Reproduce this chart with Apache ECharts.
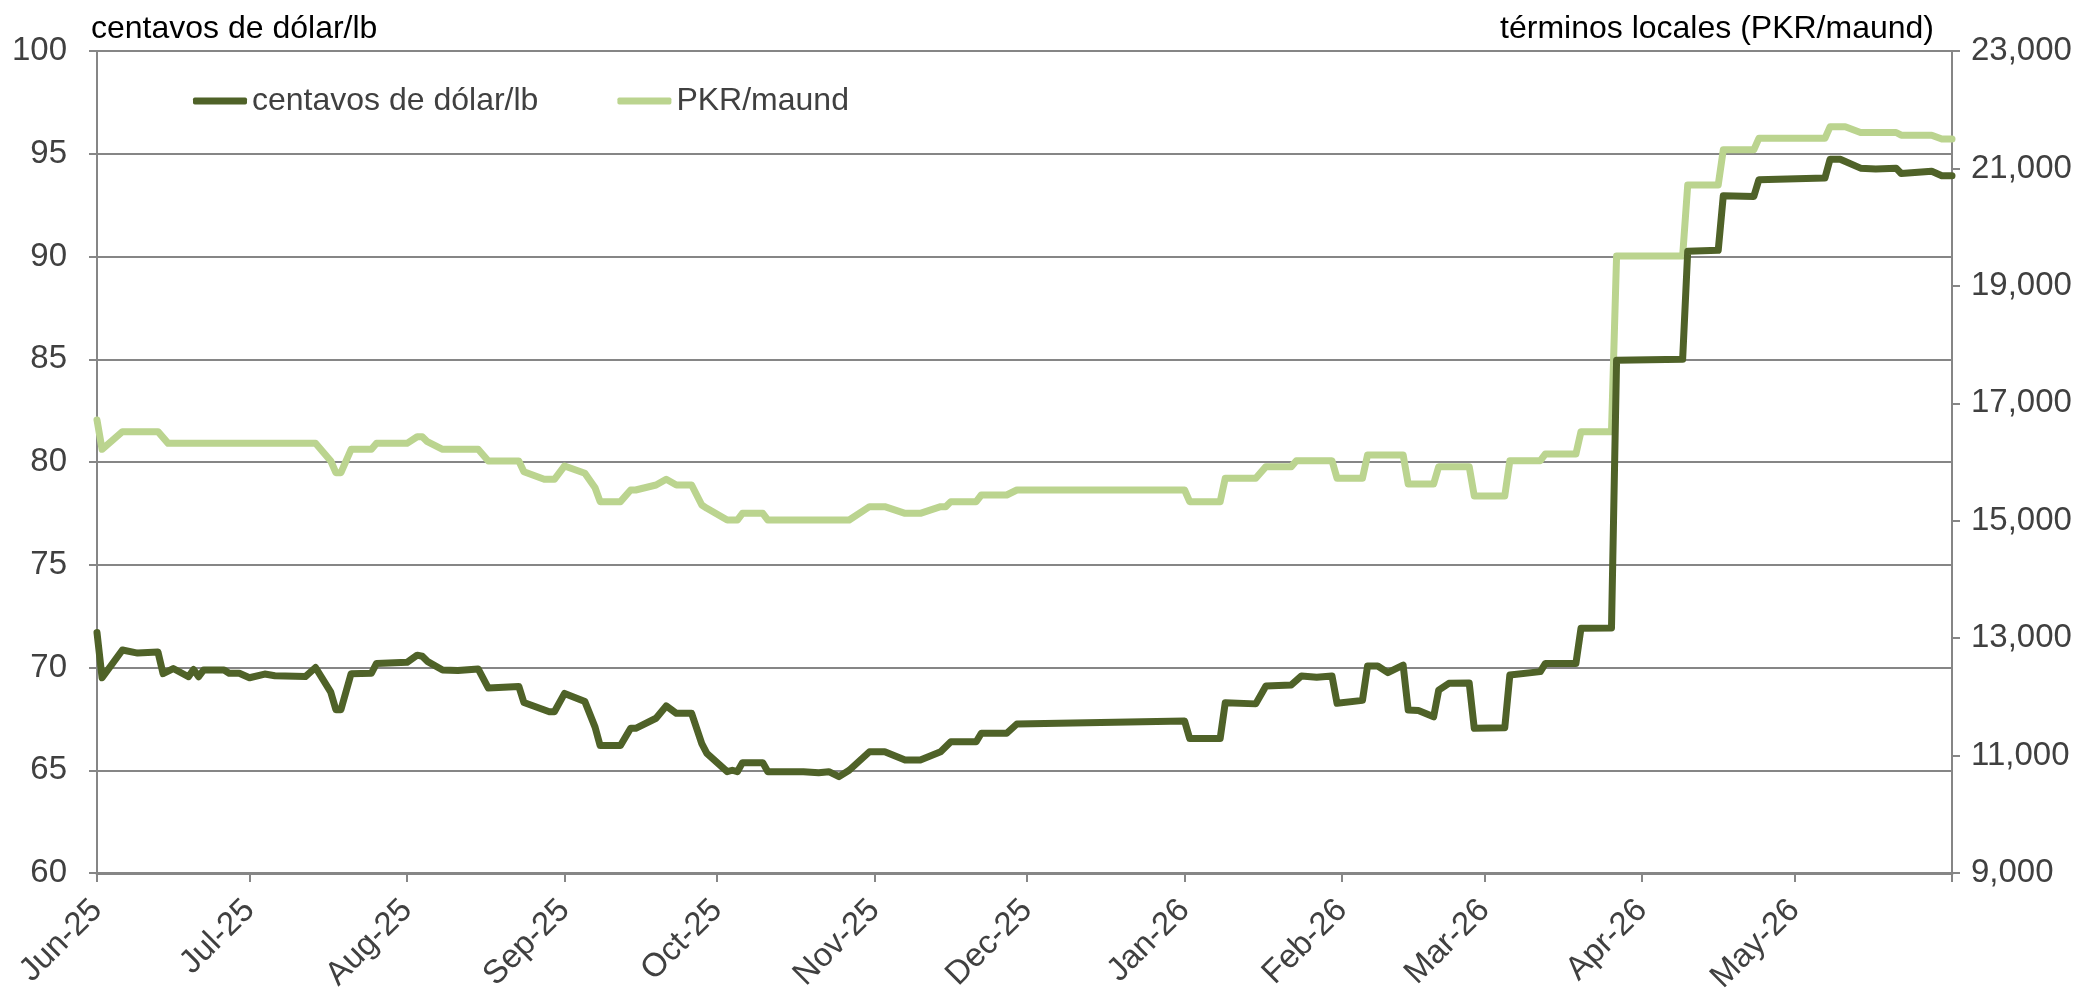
<!DOCTYPE html>
<html>
<head>
  <meta charset="utf-8">
  <title>centavos de dólar/lb vs PKR/maund</title>
  <style type="text/css">
    html, body, #main {
      width: 2095px;
      height: 990px;
      margin: 0;
      padding: 0;
      background: #ffffff;
    }
  </style>
  <script src="https://cdn.jsdelivr.net/npm/echarts@6/dist/echarts.min.js"></script>
</head>
<body>
  <div id="main"></div>
  <script>
    // month ticks on the date axis (last one carries no label)
    var tickDates = ['2025-06-01', '2025-07-01', '2025-08-01', '2025-09-01', '2025-10-01', '2025-11-01',
      '2025-12-01', '2026-01-01', '2026-02-01', '2026-03-01', '2026-04-01', '2026-05-01', '2026-06-01'];
    var tickLabels = ['Jun-25', 'Jul-25', 'Aug-25', 'Sep-25', 'Oct-25', 'Nov-25',
      'Dec-25', 'Jan-26', 'Feb-26', 'Mar-26', 'Apr-26', 'May-26', ''];

    var rightTicks = [9000, 11000, 13000, 15000, 17000, 19000, 21000, 23000];

    // US cents per lb (left axis), turning points
    var usdDates = ['2025-06-01', '2025-06-02', '2025-06-06', '2025-06-09', '2025-06-13', '2025-06-14', '2025-06-16',
      '2025-06-19', '2025-06-20', '2025-06-21', '2025-06-22', '2025-06-26', '2025-06-27', '2025-06-29', '2025-07-01',
      '2025-07-04', '2025-07-06', '2025-07-12', '2025-07-14', '2025-07-17', '2025-07-18', '2025-07-19', '2025-07-21',
      '2025-07-25', '2025-07-26', '2025-08-01', '2025-08-03', '2025-08-04', '2025-08-05', '2025-08-08', '2025-08-11',
      '2025-08-15', '2025-08-17', '2025-08-23', '2025-08-24', '2025-08-29', '2025-08-30', '2025-09-01', '2025-09-05',
      '2025-09-07', '2025-09-08', '2025-09-12', '2025-09-14', '2025-09-15', '2025-09-19', '2025-09-21', '2025-09-23',
      '2025-09-26', '2025-09-28', '2025-09-29', '2025-10-03', '2025-10-04', '2025-10-05', '2025-10-06', '2025-10-10',
      '2025-10-11', '2025-10-18', '2025-10-21', '2025-10-23', '2025-10-25', '2025-10-27', '2025-10-31', '2025-11-03',
      '2025-11-07', '2025-11-10', '2025-11-14', '2025-11-16', '2025-11-21', '2025-11-22', '2025-11-27', '2025-11-29',
      '2026-01-01', '2026-01-02', '2026-01-08', '2026-01-09', '2026-01-15', '2026-01-17', '2026-01-22', '2026-01-24',
      '2026-01-27', '2026-01-30', '2026-01-31', '2026-02-05', '2026-02-06', '2026-02-08', '2026-02-10', '2026-02-13',
      '2026-02-14', '2026-02-16', '2026-02-19', '2026-02-20', '2026-02-22', '2026-02-26', '2026-02-27', '2026-03-05',
      '2026-03-06', '2026-03-12', '2026-03-13', '2026-03-19', '2026-03-20', '2026-03-26', '2026-03-27', '2026-04-09',
      '2026-04-10', '2026-04-16', '2026-04-17', '2026-04-23', '2026-04-24', '2026-05-07', '2026-05-08', '2026-05-10',
      '2026-05-14', '2026-05-17', '2026-05-21', '2026-05-22', '2026-05-28', '2026-05-30', '2026-06-01'];
    var usdValues = [71.7, 69.5, 70.85, 70.7, 70.75, 69.7, 69.95,
      69.55, 69.9, 69.55, 69.88, 69.88, 69.72, 69.72, 69.5,
      69.68, 69.6, 69.56, 70.0, 68.8, 67.95, 67.95, 69.7,
      69.72, 70.2, 70.25, 70.6, 70.55, 70.3, 69.88, 69.85,
      69.93, 69.0, 69.08, 68.3, 67.85, 67.85, 68.74, 68.34,
      67.1, 66.2, 66.2, 67.04, 67.04, 67.53, 68.13, 67.77,
      67.77, 66.3, 65.82, 64.93, 65.0, 64.93, 65.37, 65.37,
      64.93, 64.93, 64.88, 64.93, 64.69, 65.0, 65.9, 65.9,
      65.5, 65.5, 65.9, 66.39, 66.39, 66.8, 66.8, 67.25,
      67.4, 66.55, 66.55, 68.29, 68.23, 69.1, 69.15, 69.59,
      69.53, 69.59, 68.26, 68.4, 70.07, 70.07, 69.75, 70.12,
      67.93, 67.91, 67.6, 68.9, 69.23, 69.25, 67.04, 67.07,
      69.64, 69.8, 70.2, 70.2, 71.91, 71.92, 84.95, 85.0,
      90.26, 90.3, 92.96, 92.92, 93.74, 93.82, 94.73, 94.73,
      94.3, 94.26, 94.3, 94.04, 94.15, 93.93, 93.93];

    // PKR per maund (right axis)
    var pkrDates = ['2025-06-01', '2025-06-02', '2025-06-06', '2025-06-13', '2025-06-15', '2025-07-14', '2025-07-17',
      '2025-07-18', '2025-07-19', '2025-07-21', '2025-07-25', '2025-07-26', '2025-08-01', '2025-08-03', '2025-08-04',
      '2025-08-05', '2025-08-08', '2025-08-15', '2025-08-17', '2025-08-23', '2025-08-24', '2025-08-28', '2025-08-30',
      '2025-09-01', '2025-09-05', '2025-09-07', '2025-09-08', '2025-09-12', '2025-09-14', '2025-09-15', '2025-09-19',
      '2025-09-21', '2025-09-23', '2025-09-26', '2025-09-28', '2025-09-29', '2025-10-03', '2025-10-05', '2025-10-06',
      '2025-10-10', '2025-10-11', '2025-10-27', '2025-10-31', '2025-11-03', '2025-11-07', '2025-11-10', '2025-11-14',
      '2025-11-15', '2025-11-16', '2025-11-21', '2025-11-22', '2025-11-27', '2025-11-29', '2026-01-01', '2026-01-02',
      '2026-01-08', '2026-01-09', '2026-01-15', '2026-01-17', '2026-01-22', '2026-01-23', '2026-01-30', '2026-01-31',
      '2026-02-05', '2026-02-06', '2026-02-13', '2026-02-14', '2026-02-19', '2026-02-20', '2026-02-26', '2026-02-27',
      '2026-03-05', '2026-03-06', '2026-03-12', '2026-03-13', '2026-03-19', '2026-03-20', '2026-03-26', '2026-03-27',
      '2026-04-09', '2026-04-10', '2026-04-16', '2026-04-17', '2026-04-23', '2026-04-24', '2026-05-07', '2026-05-08',
      '2026-05-11', '2026-05-14', '2026-05-21', '2026-05-22', '2026-05-28', '2026-05-30', '2026-06-01'];
    var pkrValues = [16715, 16216, 16517, 16517, 16318, 16318, 16017,
      15818, 15818, 16216, 16216, 16318, 16318, 16431, 16431,
      16346, 16216, 16216, 16017, 16017, 15835, 15706, 15706,
      15932, 15807, 15560, 15325, 15325, 15523, 15523, 15608,
      15706, 15608, 15608, 15267, 15211, 15012, 15012, 15126,
      15126, 15012, 15012, 15239, 15239, 15126, 15126, 15239,
      15239, 15325, 15325, 15438, 15438, 15523, 15523, 15325,
      15325, 15722, 15722, 15921, 15921, 16023, 16023, 15722,
      15722, 16120, 16120, 15625, 15625, 15921, 15921, 15421,
      15421, 16023, 16023, 16137, 16137, 16517, 16517, 19507,
      19507, 20718, 20718, 21317, 21317, 21513, 21513, 21709,
      21709, 21612, 21612, 21566, 21566, 21501, 21501];

    function toTs(s) {
      var p = s.split('-');
      return new Date(+p[0], +p[1] - 1, +p[2]).getTime();
    }
    function zip(dates, values) {
      return dates.map(function (d, i) { return [toTs(d), values[i]]; });
    }

    var tickTs = tickDates.map(toTs);
    var font = "'Liberation Sans', Arial, sans-serif";
    var grey = '#868686';
    var labelColor = '#404040';

    var myChart = echarts.init(document.getElementById('main'), null, { renderer: 'canvas' });
    myChart.setOption({
      animation: false,
      backgroundColor: '#ffffff',
      textStyle: { fontFamily: font },
      title: [
        {
          text: 'centavos de dólar/lb', left: 86, top: 8,
          textStyle: { fontFamily: font, fontSize: 32, fontWeight: 'normal', color: '#000000' }
        },
        {
          text: 'términos locales (PKR/maund)', right: 156, top: 8,
          textStyle: { fontFamily: font, fontSize: 32, fontWeight: 'normal', color: '#000000' }
        }
      ],
      legend: {
        data: ['centavos de dólar/lb', 'PKR/maund'],
        left: 188,
        top: 80,
        icon: 'roundRect',
        itemWidth: 54,
        itemHeight: 7,
        itemGap: 79,
        textStyle: { fontFamily: font, fontSize: 32, color: labelColor }
      },
      grid: { left: 97, right: 143, top: 51, bottom: 117, outerBoundsMode: 'none', containLabel: false },
      xAxis: {
        type: 'value',
        min: tickTs[0],
        max: tickTs[tickTs.length - 1],
        axisLine: { show: true, lineStyle: { color: grey, width: 3 } },
        axisTick: { show: true, customValues: tickTs, length: 9, lineStyle: { color: grey, width: 2 } },
        splitLine: { show: false },
        axisLabel: {
          customValues: tickTs,
          rotate: 45,
          margin: 32,
          fontFamily: font,
          fontSize: 33,
          color: labelColor,
          hideOverlap: false,
          formatter: function (val) {
            var i = tickTs.indexOf(val);
            return i >= 0 ? tickLabels[i] : '';
          }
        }
      },
      yAxis: [
        {
          type: 'value',
          min: 60,
          max: 100,
          interval: 5,
          position: 'left',
          axisLine: { show: true, lineStyle: { color: grey, width: 2 } },
          axisTick: { show: true, length: 8, lineStyle: { color: grey, width: 2 } },
          splitLine: { show: true, lineStyle: { color: grey, width: 2 } },
          axisLabel: { margin: 30, fontFamily: font, fontSize: 33, color: labelColor }
        },
        {
          type: 'value',
          min: 9000,
          max: 23000,
          position: 'right',
          axisLine: { show: true, lineStyle: { color: grey, width: 2 } },
          axisTick: { show: true, customValues: rightTicks, length: 8, lineStyle: { color: grey, width: 2 } },
          splitLine: { show: false },
          axisLabel: {
            customValues: rightTicks,
            margin: 19,
            fontFamily: font,
            fontSize: 33,
            color: labelColor,
            formatter: function (v) { return v.toLocaleString('en-US'); }
          }
        }
      ],
      series: [
        {
          name: 'centavos de dólar/lb',
          type: 'line',
          yAxisIndex: 0,
          z: 4,
          showSymbol: false,
          color: '#4F6228',
          lineStyle: { width: 7, color: '#4F6228', cap: 'round', join: 'round' },
          data: zip(usdDates, usdValues)
        },
        {
          name: 'PKR/maund',
          type: 'line',
          yAxisIndex: 1,
          z: 3,
          showSymbol: false,
          color: '#BBD48F',
          lineStyle: { width: 7, color: '#BBD48F', cap: 'round', join: 'round' },
          data: zip(pkrDates, pkrValues)
        }
      ]
    });
  </script>
</body>
</html>
